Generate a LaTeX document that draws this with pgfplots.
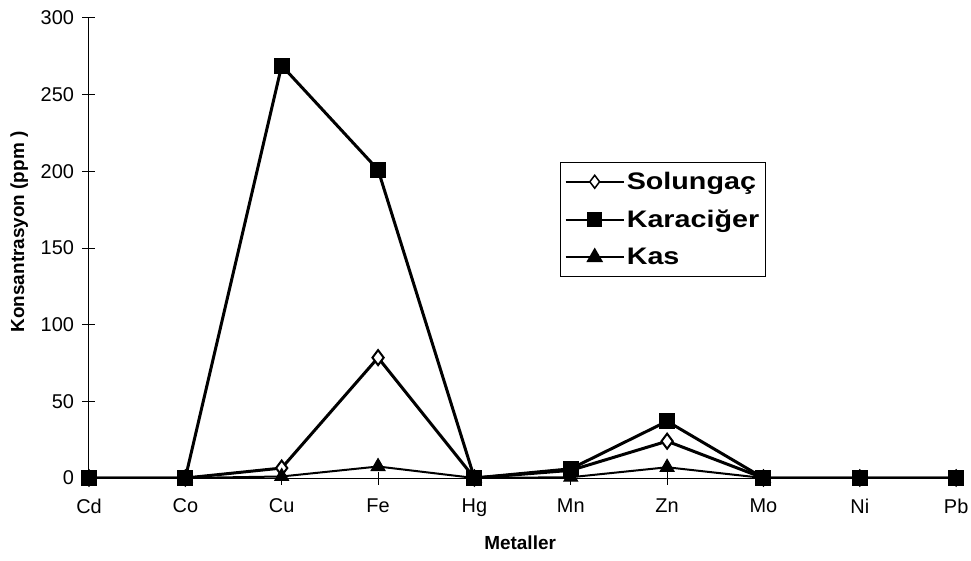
\documentclass[border=0pt]{standalone}
\usepackage{fontspec}
\setmainfont{Liberation Sans}
\newfontfamily\legfont[FakeStretch=1.2]{Liberation Sans}
\usepackage{pgfplots}
\pgfplotsset{compat=1.18}
\begin{document}
\begin{tikzpicture}
\begin{axis}[
  name=ax,
  scale only axis,
  width=871bp, height=460bp,
  xmin=0, xmax=9.04,
  ymin=0, ymax=300,
  axis x line*=bottom, axis y line*=left,
  axis line style={line width=1bp,-},
  xtick={0,...,9},
  xticklabels={Cd,Co,Cu,Fe,Hg,Mn,Zn,Mo,Ni,Pb},
  ytick={0,50,...,300},
  tick align=center,
  major tick length=13bp,
  tick style={line width=1bp,black},
  /pgf/number format/assume math mode=true,
  ticklabel style={font=\fontsize{20}{23}\selectfont},
  yticklabel style={xshift=-5bp},
  xticklabel style={yshift=-11bp},
  every axis y label/.style={at={(axis description cs:-0.080,0.535)},rotate=90,anchor=center,font=\fontsize{19}{22}\selectfont\bfseries},
  every axis x label/.style={at={(axis description cs:0.495,-0.141)},anchor=center,font=\fontsize{19}{22}\selectfont\bfseries},
  xlabel={Metaller},
  ylabel={Konsantrasyon (ppm )},
  legend style={at={(axis description cs:0.541,0.687)},anchor=north west,draw=black,line width=0.8bp,
    font=\fontsize{24}{28}\legfont\bfseries,row sep=15bp,inner xsep=4bp,inner ysep=8bp},
  legend cell align=left,
  legend image code/.code={\draw[mark repeat=2,mark phase=2,#1] plot coordinates {(0bp,0bp) (29bp,0bp) (58bp,0bp)};},
]
\addlegendimage{black,line width=2.2bp,mark=diamond*,mark options={fill=white,line width=1.5bp},mark size=6.5bp}
\addlegendentry{Solungaç}
\addlegendimage{black,line width=2.2bp,mark=square*,mark options={fill=black},mark size=6.5bp}
\addlegendentry{Karaciğer}
\addlegendimage{black,line width=2.2bp,mark=triangle*,mark options={fill=black},mark size=7.5bp}
\addlegendentry{Kas}

\addplot[forget plot,black,line width=3bp,mark=diamond*,mark options={fill=white,line width=2bp},mark size=7.5bp]
  coordinates {(0,0) (1,0) (2,6.5) (3,78.5) (4,0) (5,5) (6,24) (7,0) (8,0) (9,0)};
\addplot[forget plot,black,line width=2bp,mark=triangle*,mark options={fill=black,line width=1bp},mark size=8bp]
  coordinates {(0,0) (1,0) (2,1) (3,7.5) (4,0) (5,0.5) (6,7) (7,0) (8,0) (9,0)};
\addplot[forget plot,black,line width=3bp,mark=square*,mark options={fill=black,line width=1bp},mark size=7.5bp]
  coordinates {(0,0) (1,0) (2,269) (3,201) (4,0) (5,6) (6,37) (7,0) (8,0) (9,0)};
\end{axis}
\pgfresetboundingbox
\path[use as bounding box] ([xshift=-89bp,yshift=-82bp]ax.south west) rectangle ([xshift=11bp,yshift=18bp]ax.north east);
\end{tikzpicture}
\end{document}
